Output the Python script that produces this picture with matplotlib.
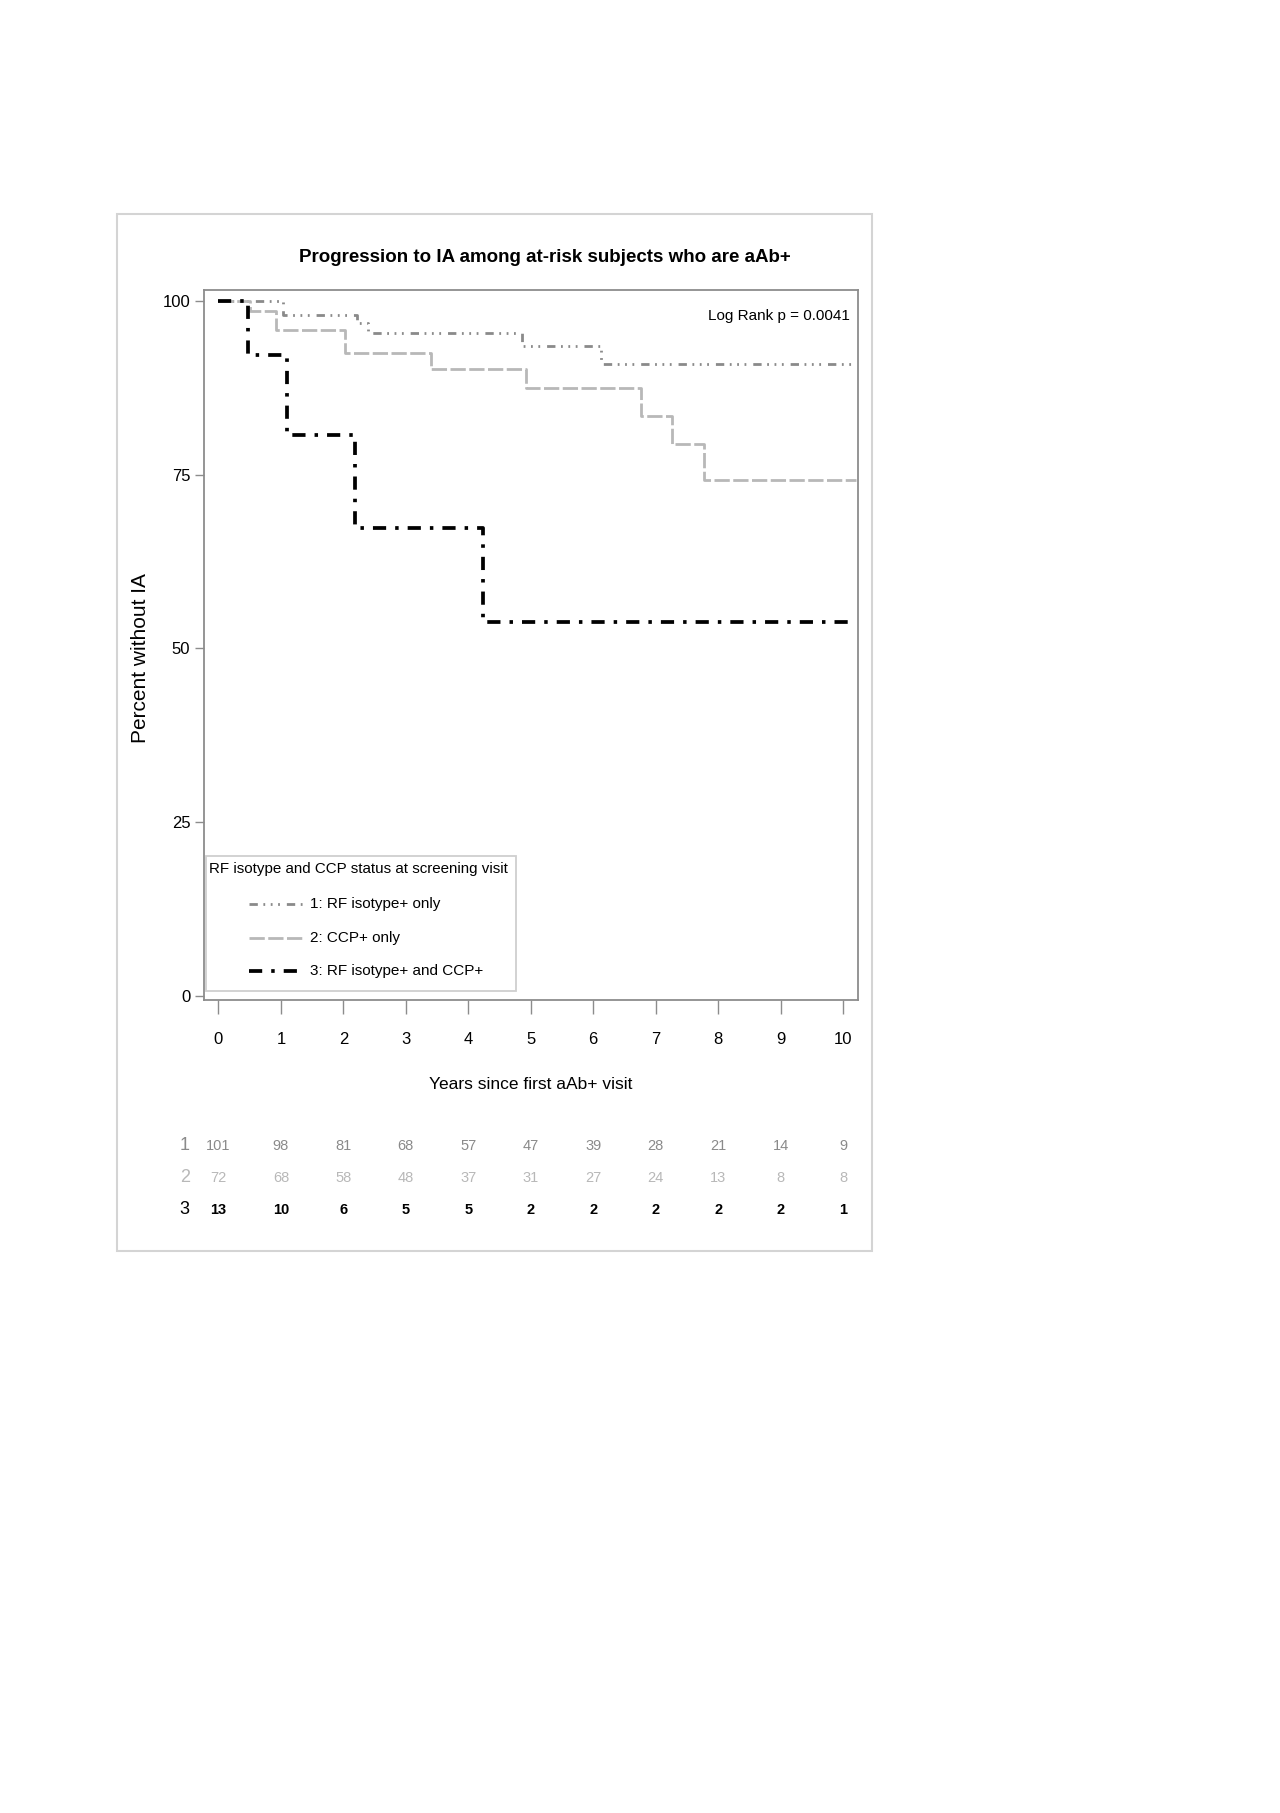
import matplotlib
matplotlib.use("Agg")
import matplotlib.pyplot as plt
from matplotlib.patches import Rectangle
from matplotlib.lines import Line2D
from matplotlib.transforms import blended_transform_factory

plt.rcParams['font.family'] = ['Liberation Sans', 'DejaVu Sans']
plt.rcParams['lines.scale_dashes'] = False

# Kaplan-Meier steps (years, percent without IA)
t1 = [0, 1.04, 2.22, 2.40, 4.86, 6.12, 10.2]
s1 = [100, 98.0, 96.8, 95.4, 93.5, 91.0, 91.0]
t2 = [0, 0.50, 0.92, 2.02, 3.40, 4.92, 6.76, 7.26, 7.78, 10.2]
s2 = [100, 98.6, 95.8, 92.6, 90.3, 87.5, 83.5, 79.4, 74.3, 74.3]
t3 = [0, 0.48, 1.09, 2.19, 4.24, 10.2]
s3 = [100, 92.3, 80.8, 67.3, 53.8, 53.8]

labels = ["1: RF isotype+ only", "2: CCP+ only", "3: RF isotype+ and CCP+"]
years = list(range(0, 11))
risk1 = [101, 98, 81, 68, 57, 47, 39, 28, 21, 14, 9]
risk2 = [72, 68, 58, 48, 37, 31, 27, 24, 13, 8, 8]
risk3 = [13, 10, 6, 5, 5, 2, 2, 2, 2, 2, 1]

c1, c2, c3 = '#8a8a8a', '#b8b8b8', 'black'
ls1 = (0, (6, 4, 1.3, 4, 1.3, 4, 1.3, 5))
ls2 = (0, (11, 2.5))
ls3 = (0, (9.5, 6.5, 2.5, 6.5))

fig = plt.figure(figsize=(12.8, 18.13), dpi=100)
W, H = 1280, 1813

# outer frame
fig.patches.append(Rectangle((117 / W, 1 - 1251 / H), (872 - 117) / W, (1251 - 214) / H,
                             transform=fig.transFigure, fill=False,
                             edgecolor='#d4d4d4', linewidth=1.5))

ax = fig.add_axes([203.5 / W, 1 - 1000 / H, (858 - 203.5) / W, (1000 - 290) / H])

ax.step(t1, s1, where='post', color=c1, lw=2.0, linestyle=ls1)
ax.step(t2, s2, where='post', color=c2, lw=2.0, linestyle=ls2)
ax.step(t3, s3, where='post', color=c3, lw=2.7, linestyle=ls3)

ax.set_xlim(-0.24, 10.24)
ax.set_ylim(-0.6, 101.6)
ax.set_xticks(years)
ax.set_yticks([0, 25, 50, 75, 100])
for s in ax.spines.values():
    s.set_color('#8c8c8c')
    s.set_linewidth(1.3)
ax.tick_params(axis='x', direction='out', length=10, width=1, color='#8c8c8c',
               pad=13, labelsize=12)
ax.tick_params(axis='y', direction='out', length=6.5, width=1, color='#8c8c8c',
               pad=3, labelsize=12)

fig.text(545 / W, 1 - 257 / H, "Progression to IA among at-risk subjects who are aAb+",
         ha='center', va='center', fontsize=13.5, fontweight='bold')
ax.set_xlabel("Years since first aAb+ visit", fontsize=12.5)
ax.xaxis.set_label_coords(0.5, -0.108)
ax.set_ylabel("Percent without IA", fontsize=15)
ax.yaxis.set_label_coords(-0.082, 0.481)

ax.text(0.988, 0.963, "Log Rank p = 0.0041", transform=ax.transAxes,
        ha='right', va='center', fontsize=11)

# legend drawn by hand to get the indented entries
ax.add_patch(Rectangle((0.004, 0.013), 0.473, 0.190, transform=ax.transAxes,
                       fill=False, edgecolor='#cfcfcf', linewidth=1.3))
ax.text(0.008, 0.184, "RF isotype and CCP status at screening visit",
        transform=ax.transAxes, ha='left', va='center', fontsize=10.9)
entry_y = [0.135, 0.087, 0.041]
for y, c, ls, lw, lab in zip(entry_y, [c1, c2, c3], [ls1, ls2, ls3], [2.0, 2.0, 2.7], labels):
    ax.add_line(Line2D([0.069, 0.152], [y, y], transform=ax.transAxes,
                       color=c, linestyle=ls, lw=lw))
    ax.text(0.162, y, lab, transform=ax.transAxes, ha='left', va='center', fontsize=11)

# numbers at risk
tr = blended_transform_factory(ax.transData, fig.transFigure)
rows = [(risk1, c1, 'normal', 1 - 1146 / H),
        (risk2, c2, 'normal', 1 - 1178 / H),
        (risk3, c3, 'bold', 1 - 1210 / H)]
for i, (vals, c, fw, y) in enumerate(rows):
    ax.text(-0.54, y, str(i + 1), transform=tr, ha='center', va='center',
            color=c, fontsize=13, clip_on=False)
    for x, v in zip(years, vals):
        ax.text(x, y, str(v), transform=tr, ha='center', va='center',
                color=c, fontsize=10.5, fontweight=fw, clip_on=False)

fig.savefig("out.png", dpi=100)
